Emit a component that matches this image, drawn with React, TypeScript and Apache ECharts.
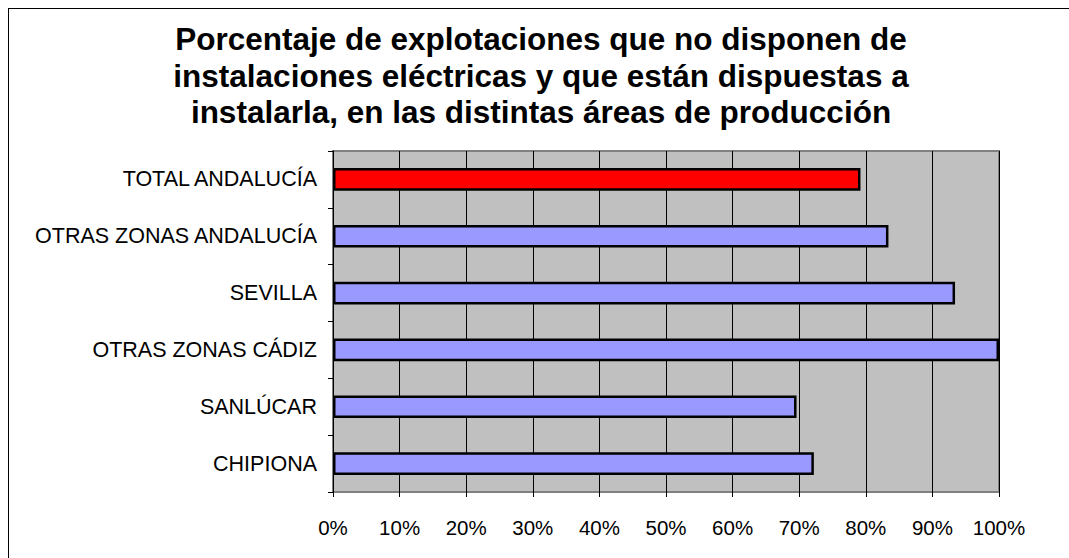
import React, { useEffect, useRef } from "react";
import * as echarts from "echarts";

const titleLines = [
  "Porcentaje de explotaciones que no disponen de",
  "instalaciones eléctricas y que están dispuestas a",
  "instalarla, en las distintas áreas de producción",
];
const categories = [
  "CHIPIONA",
  "SANLÚCAR",
  "OTRAS ZONAS CÁDIZ",
  "SEVILLA",
  "OTRAS ZONAS ANDALUCÍA",
  "TOTAL ANDALUCÍA",
];
const values = [72.2, 69.6, 100, 93.4, 83.4, 79.2];
const barColors = ["#9999FF", "#9999FF", "#9999FF", "#9999FF", "#9999FF", "#FF0000"];

export default function App() {
  const ref = useRef<HTMLDivElement>(null);
  useEffect(() => {
    if (!ref.current) return;
    const chart = echarts.init(ref.current, null, { renderer: "svg" });
    const font = "Arial, 'Liberation Sans', sans-serif";
    chart.setOption({
      animation: false,
      backgroundColor: "#FFFFFF",
      graphic: [
        {
          type: "text",
          x: 532,
          y: 12,
          style: {
            text: titleLines.join("\n"),
            fontFamily: font,
            fontSize: 31.5,
            fontWeight: "bold",
            lineHeight: 36.5,
            fill: "#000",
            align: "center",
            verticalAlign: "top",
          },
        },
      ],
      grid: {
        left: 324,
        top: 142,
        width: 666,
        height: 341,
        show: true,
        backgroundColor: "#C0C0C0",
        borderColor: "#808080",
        borderWidth: 2,
      },
      xAxis: {
        type: "value",
        min: 0,
        max: 100,
        interval: 10,
        axisLine: { show: false },
        axisTick: { show: true, length: 5, lineStyle: { color: "#000" } },
        splitLine: { show: true, lineStyle: { color: "#000", width: 1 } },
        axisLabel: {
          formatter: (v: number) => v + "%",
          fontFamily: font,
          fontSize: 20.5,
          color: "#000",
          margin: 25,
        },
      },
      yAxis: {
        type: "category",
        data: categories,
        axisLine: { show: true, lineStyle: { color: "#000", width: 1 } },
        axisTick: { show: true, length: 5, lineStyle: { color: "#000" } },
        axisLabel: {
          fontFamily: font,
          fontSize: 21.5,
          color: "#000",
          margin: 16,
        },
      },
      series: [
        {
          type: "bar",
          data: values.map((v, i) => ({
            value: v,
            itemStyle: { color: barColors[i] },
          })),
          barCategoryGap: "60%",
          itemStyle: { borderColor: "#000", borderWidth: 2.5 },
        },
      ],
    });
    return () => chart.dispose();
  }, []);
  return (
    <div
      style={{
        position: "fixed",
        left: 8,
        top: 8,
        right: 0,
        bottom: 0,
        overflow: "hidden",
      }}
    >
      <div style={{ borderLeft: "1px solid #000", borderTop: "1px solid #000", width: 1100, height: 600 }}>
        <div ref={ref} style={{ width: 1100, height: 600 }} />
      </div>
    </div>
  );
}
